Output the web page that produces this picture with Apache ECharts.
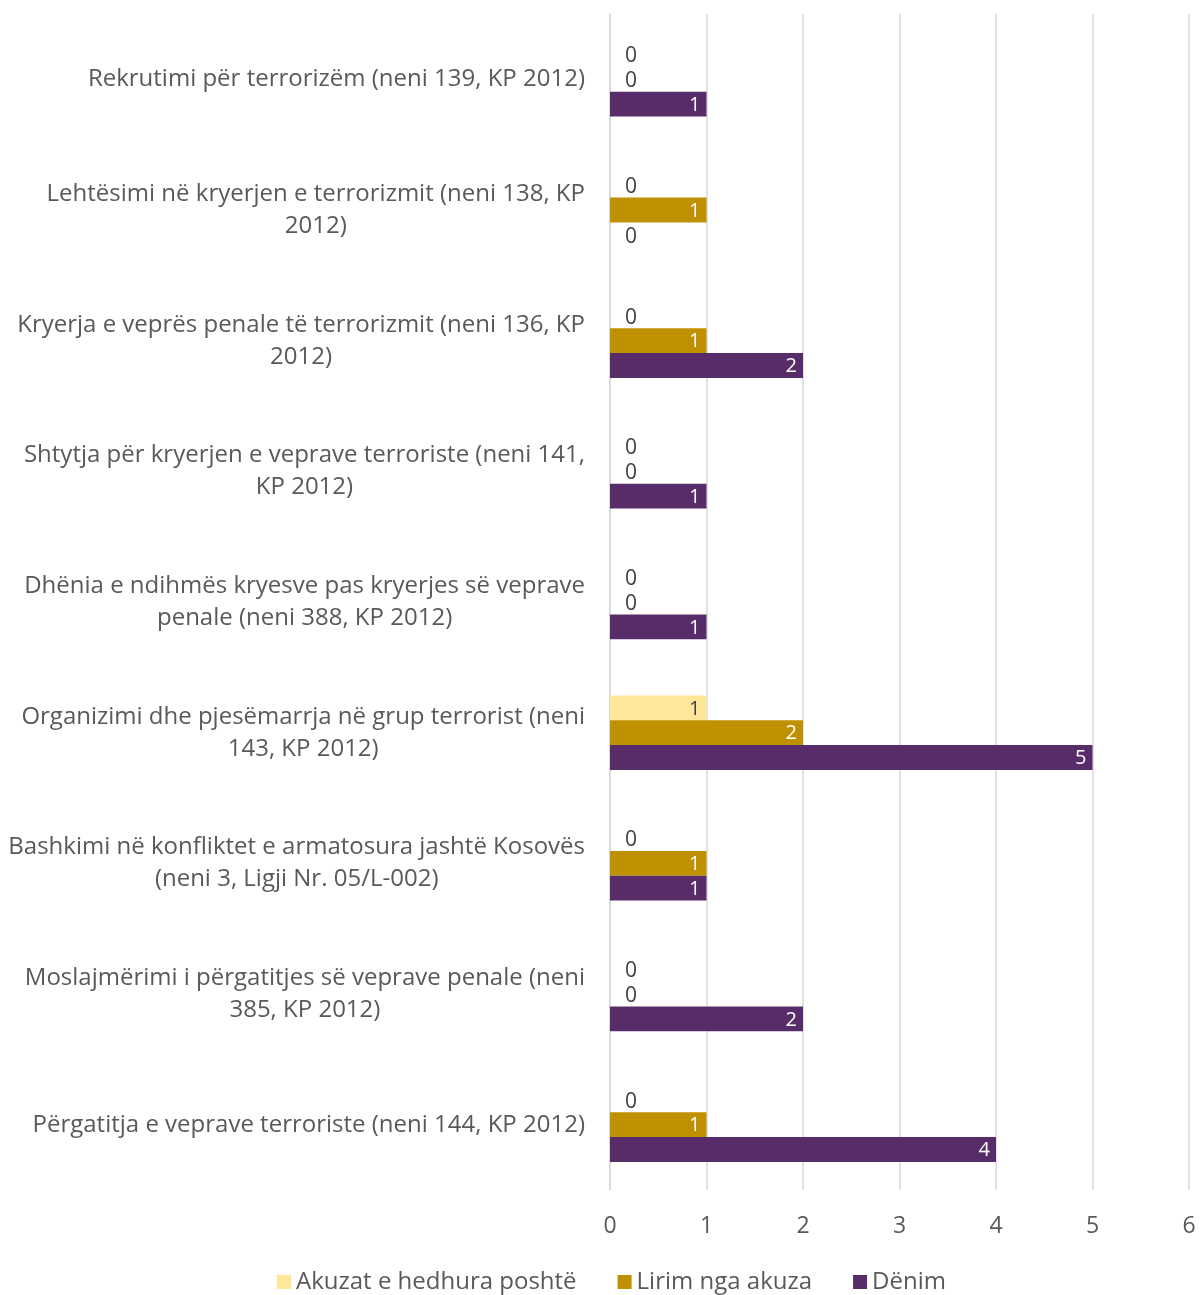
<!DOCTYPE html>
<html>
<head>
<meta charset="utf-8">
<script src="https://cdn.jsdelivr.net/npm/echarts@6/dist/echarts.min.js"></script>
<style>
  html, body { margin: 0; padding: 0; background: #fff; }
  #chart { width: 1200px; height: 1295px; }
</style>
</head>
<body>
<div id="chart"></div>
<script>
const categories = [
  'Rekrutimi për terrorizëm (neni 139, KP 2012)',
  'Lehtësimi në kryerjen e terrorizmit (neni 138, KP\n2012)',
  'Kryerja e veprës penale të terrorizmit (neni 136, KP\n2012)',
  'Shtytja për kryerjen e veprave terroriste (neni 141,\nKP 2012)',
  'Dhënia e ndihmës kryesve pas kryerjes së veprave\npenale (neni 388, KP 2012)',
  'Organizimi dhe pjesëmarrja në grup terrorist (neni\n143, KP 2012)',
  'Bashkimi në konfliktet e armatosura jashtë Kosovës\n(neni 3, Ligji Nr. 05/L-002)',
  'Moslajmërimi i përgatitjes së veprave penale (neni\n385, KP 2012)',
  'Përgatitja e veprave terroriste (neni 144, KP 2012)'
]
const akuzat = [0, 0, 0, 0, 0, 1, 0, 0, 0]
const lirim = [0, 1, 1, 0, 0, 2, 1, 0, 1]
const denim = [1, 0, 2, 1, 1, 5, 1, 2, 4]

const seriesNames = ['Akuzat e hedhura poshtë', 'Lirim nga akuza', 'Dënim']
const colors = ['#FFE699', '#BF9000', '#582C68']
const insideText = ['#404040', '#ffffff', '#ffffff']

const FONT = '"Open Sans", sans-serif'

// zero values get their label next to the axis, the rest inside the bar end
function toData(values, idx) {
  return values.map(v => ({
    value: v,
    label: v === 0
      ? { position: 'right', distance: 15, color: '#404040', fontSize: 21, offset: [0, 2] }
      : { position: 'insideRight', distance: 6, color: insideText[idx], fontSize: 20, offset: [0, 1] }
  }))
}

const chart = echarts.init(document.getElementById('chart'))
chart.setOption({
  animation: false,
  textStyle: { fontFamily: FONT },
  grid: { left: 610, right: 11, top: 14, bottom: 105, containLabel: false },
  legend: {
    bottom: -4,
    left: 272,
    itemWidth: 14,
    itemHeight: 14,
    itemGap: 41,
    icon: 'rect',
    textStyle: { fontSize: 24, color: '#595959', fontFamily: FONT },
    data: seriesNames
  },
  xAxis: {
    type: 'value',
    min: 0,
    max: 6,
    interval: 1,
    axisLine: { show: false },
    axisTick: { show: false },
    axisLabel: { fontSize: 23, color: '#595959', margin: 25, fontFamily: FONT },
    splitLine: { lineStyle: { color: '#d9d9d9', width: 1.5 } }
  },
  yAxis: {
    type: 'category',
    inverse: true,
    data: categories,
    axisLine: { show: true, lineStyle: { color: '#d9d9d9', width: 1.5 } },
    axisTick: { show: false },
    axisLabel: {
      margin: 25,
      align: 'right',
      // lines centred within the block, block right-aligned to the axis
      formatter: v => v.split('\n').map(l => '{c|' + l + '}').join('\n'),
      rich: {
        c: { fontSize: 24, lineHeight: 32, color: '#595959', align: 'center', fontFamily: FONT }
      }
    }
  },
  series: [akuzat, lirim, denim].map((vals, i) => ({
    name: seriesNames[i],
    type: 'bar',
    data: toData(vals, i),
    barGap: '0%',
    barCategoryGap: '43%',
    itemStyle: { color: colors[i] },
    label: { show: true, fontFamily: FONT }
  }))
})
</script>
</body>
</html>
